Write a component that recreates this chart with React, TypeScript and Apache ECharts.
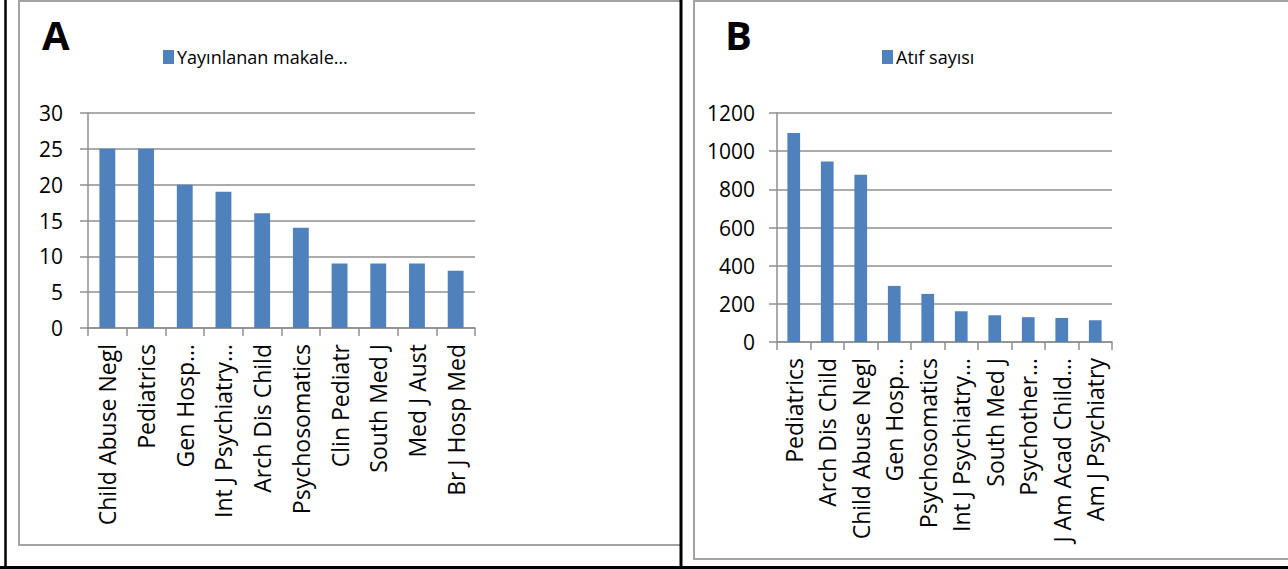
import React, { useEffect, useRef } from "react";
import * as echarts from "echarts";

const categoriesA = [
  "Child Abuse Negl",
  "Pediatrics",
  "Gen Hosp…",
  "Int J Psychiatry…",
  "Arch Dis Child",
  "Psychosomatics",
  "Clin Pediatr",
  "South Med J",
  "Med J Aust",
  "Br J Hosp Med",
];
const valuesA = [25, 25, 20, 19, 16, 14, 9, 9, 9, 8];
const seriesNameA = "Yayınlanan makale…";

const categoriesB = [
  "Pediatrics",
  "Arch Dis Child",
  "Child Abuse Negl",
  "Gen Hosp…",
  "Psychosomatics",
  "Int J Psychiatry…",
  "South Med J",
  "Psychother…",
  "J Am Acad Child…",
  "Am J Psychiatry",
];
const valuesB = [1095, 946, 876, 294, 252, 161, 140, 130, 126, 114];
const seriesNameB = "Atıf sayısı";

const FONT = "'Open Sans', 'Noto Sans', sans-serif";
const BAR = "#4F81BD";
const GRID_GRAY = "#8f8f8f";

export default function App() {
  const ref = useRef<HTMLDivElement>(null);
  useEffect(() => {
    if (!ref.current) return;
    const chart = echarts.init(ref.current, undefined, { renderer: "svg" });
    const yAxisCommon = {
      type: "value" as const,
      min: 0,
      axisLine: { show: true, lineStyle: { color: GRID_GRAY, width: 1.5 } },
      axisTick: { show: true, length: 8, lineStyle: { color: GRID_GRAY, width: 1.5 } },
      splitLine: { show: true, lineStyle: { color: GRID_GRAY, width: 1.5 } },
      axisLabel: {
        color: "#000",
        fontFamily: FONT,
        fontSize: 21,
        formatter: (v: number) => String(v),
      },
    };
    const xAxisCommon = {
      type: "category" as const,
      axisLine: { show: true, lineStyle: { color: GRID_GRAY, width: 1.5 } },
      axisTick: { show: true, length: 8, lineStyle: { color: GRID_GRAY, width: 1.5 } },
      axisLabel: {
        color: "#000",
        fontFamily: FONT,
        fontSize: 23,
        rotate: 90,
        interval: 0,
        margin: 16,
      },
    };
    const legendCommon = {
      top: 48,
      padding: 0,
      itemWidth: 11,
      itemHeight: 14,
      itemGap: 4,
      icon: "rect",
      textStyle: { fontFamily: FONT, fontSize: 18, color: "#000", padding: [0, 0, 0, -2] },
    };
    chart.setOption({
      animation: false,
      backgroundColor: "#fff",
      grid: [
        { left: 88, top: 113, width: 387, height: 215 },
        { left: 777, top: 113, width: 335, height: 229 },
      ],
      legend: [
        { ...legendCommon, data: [seriesNameA], left: 163 },
        { ...legendCommon, data: [seriesNameB], left: 882 },
      ],
      xAxis: [
        { ...xAxisCommon, gridIndex: 0, data: categoriesA },
        { ...xAxisCommon, gridIndex: 1, data: categoriesB },
      ],
      yAxis: [
        { ...yAxisCommon, gridIndex: 0, max: 30, interval: 5, axisLabel: { ...yAxisCommon.axisLabel, margin: 25 } },
        { ...yAxisCommon, gridIndex: 1, max: 1200, interval: 200, axisLabel: { ...yAxisCommon.axisLabel, margin: 22 } },
      ],
      series: [
        {
          name: seriesNameA,
          type: "bar",
          xAxisIndex: 0,
          yAxisIndex: 0,
          data: valuesA,
          barWidth: "41%",
          itemStyle: { color: BAR },
        },
        {
          name: seriesNameB,
          type: "bar",
          xAxisIndex: 1,
          yAxisIndex: 1,
          data: valuesB,
          barWidth: "38%",
          itemStyle: { color: BAR },
        },
      ],
      graphic: [
        {
          type: "rect",
          shape: { x: 19, y: 1, width: 662, height: 544 },
          style: { fill: "none", stroke: "#a3a3a3", lineWidth: 2 },
          z: 10,
        },
        {
          type: "rect",
          shape: { x: 694, y: 1, width: 620, height: 558 },
          style: { fill: "none", stroke: "#a3a3a3", lineWidth: 2 },
          z: 10,
        },
        {
          type: "line",
          shape: { x1: 5.5, y1: 0, x2: 5.5, y2: 569 },
          style: { stroke: "#000", lineWidth: 2.5 },
          z: 20,
        },
        {
          type: "line",
          shape: { x1: 681, y1: 0, x2: 681, y2: 569 },
          style: { stroke: "#000", lineWidth: 3 },
          z: 20,
        },
        {
          type: "line",
          shape: { x1: 0, y1: 567.5, x2: 1288, y2: 567.5 },
          style: { stroke: "#000", lineWidth: 3 },
          z: 20,
        },
        {
          type: "text",
          left: 42,
          top: 14,
          style: { text: "A", fontFamily: FONT, fontWeight: "bold", fontSize: 40, fill: "#000" },
          z: 20,
        },
        {
          type: "text",
          left: 725,
          top: 14,
          style: { text: "B", fontFamily: FONT, fontWeight: "bold", fontSize: 40, fill: "#000" },
          z: 20,
        },
      ],
    });
    return () => chart.dispose();
  }, []);
  return (
    <div
      ref={ref}
      style={{ position: "fixed", left: 0, top: 0, width: 1288, height: 569 }}
    />
  );
}
